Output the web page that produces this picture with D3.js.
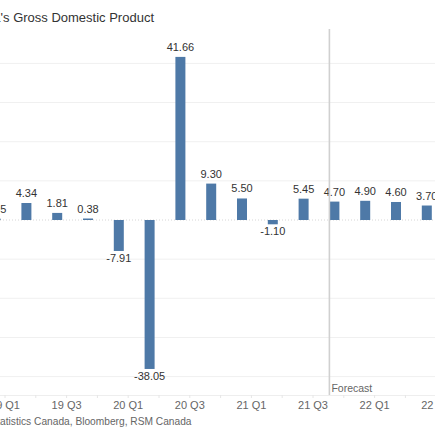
<!DOCTYPE html>
<html>
<head>
<meta charset="utf-8">
<script src="https://cdn.jsdelivr.net/npm/d3@7"></script>
<style>
    body { margin: 0; background: #fff; }
    svg { display: block; overflow: hidden; font-family: Arial, "Liberation Sans", sans-serif; }
</style>
</head>
<body>
<div id="chart"></div>
<script>
// Quarterly GDP growth, annualized %
const quarters = ["19 Q1", "19 Q2", "19 Q3", "19 Q4", "20 Q1", "20 Q2", "20 Q3", "20 Q4",
    "21 Q1", "21 Q2", "21 Q3", "21 Q4", "22 Q1", "22 Q2", "22 Q3"];
const gdpValues = [0.35, 4.34, 1.81, 0.38, -7.91, -38.05, 41.66, 9.30,
    5.50, -1.10, 5.45, 4.70, 4.90, 4.60, 3.70];
const yTicks = [-40, -30, -20, -10, 0, 10, 20, 30, 40];
const forecastStart = "21 Q4";

const width = 435, height = 435;

// the chart is wider than the window, so the plot runs off both edges
const plot = { left: -10.4, right: 451.6, top: 63.4, bottom: 376.6 };

const svg = d3.select("#chart").append("svg")
    .attr("width", width)
    .attr("height", height);

const x = d3.scaleBand()
    .domain(quarters)
    .range([plot.left, plot.right]);

const y = d3.scaleLinear()
    .domain([-40, 40])
    .range([plot.bottom, plot.top]);

const barOffset = 1, barWidth = 10;

// gridlines
svg.append("g")
    .selectAll("line")
    .data(yTicks)
    .join("line")
    .attr("x1", 0)
    .attr("x2", width)
    .attr("y1", d => y(d))
    .attr("y2", d => y(d))
    .attr("stroke", d => d === 0 ? "#d6d6d6" : "#f0f0f0")
    .attr("stroke-width", 1)
    .attr("stroke-dasharray", d => d === 0 ? "1,2" : null);

// x axis - tick on every quarter, label on every other one
const xAxis = d3.axisBottom(x)
    .tickSize(3)
    .tickFormat((d, i) => i % 2 === 0 ? d : "");

const axisG = svg.append("g")
    .attr("transform", "translate(0,395)")
    .call(xAxis);

axisG.select(".domain").attr("stroke", "#eeeeee");
axisG.selectAll(".tick line").attr("stroke", "#e6e6e6");
axisG.selectAll(".tick text")
    .attr("fill", "#666")
    .attr("font-size", 11)
    .attr("dy", "0.72em");

// bars
svg.append("g")
    .selectAll("rect")
    .data(quarters)
    .join("rect")
    .attr("x", d => x(d) + barOffset)
    .attr("width", barWidth)
    .attr("y", (d, i) => y(Math.max(0, gdpValues[i])))
    .attr("height", (d, i) => Math.abs(y(gdpValues[i]) - y(0)))
    .attr("fill", "#4e79a7");

// value labels (plain hyphen for negatives, like the original)
svg.append("g")
    .selectAll("text")
    .data(quarters)
    .join("text")
    .attr("x", d => x(d) + barOffset + barWidth / 2)
    .attr("y", (d, i) => gdpValues[i] >= 0 ? y(gdpValues[i]) - 6 : y(gdpValues[i]) + 11)
    .attr("text-anchor", "middle")
    .attr("font-size", 11)
    .attr("fill", "#333")
    .text((d, i) => gdpValues[i].toFixed(2));

// forecast divider
const fx = x(forecastStart) + 1;
svg.append("line")
    .attr("x1", fx)
    .attr("x2", fx)
    .attr("y1", 29)
    .attr("y2", 395)
    .attr("stroke", "#d0d0d0")
    .attr("stroke-width", 1.6);

svg.append("text")
    .attr("x", fx + 2)
    .attr("y", 392)
    .attr("font-size", 10.5)
    .attr("fill", "#666")
    .text("Forecast");

// title and source
svg.append("text")
    .attr("x", -45)
    .attr("y", 22)
    .attr("font-size", 13)
    .attr("fill", "#333")
    .text("Canada's Gross Domestic Product");

svg.append("text")
    .attr("x", -47.5)
    .attr("y", 425)
    .attr("font-size", 10.2)
    .attr("fill", "#666")
    .text("Source: Statistics Canada, Bloomberg, RSM Canada");
</script>
</body>
</html>
